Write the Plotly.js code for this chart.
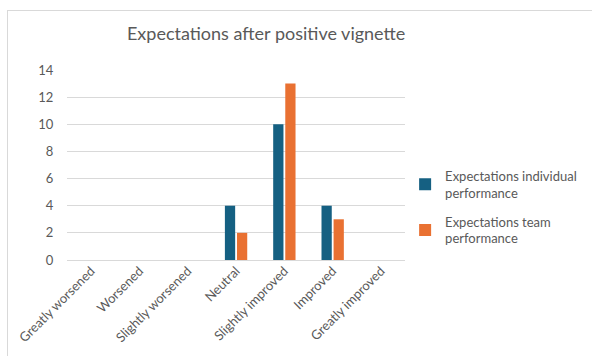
<!DOCTYPE html>
<html>
<head>
<meta charset="utf-8">
<script src="https://cdn.plot.ly/plotly-3.0.1.min.js"></script>
<style>
  html, body { margin: 0; padding: 0; background: #fff; }
  #frame { position: absolute; left: 7px; top: 10px; width: 585px; height: 346px;
           border-left: 1px solid #d9d9d9; border-top: 1px solid #d9d9d9; box-sizing: border-box; }
  #chart { width: 584px; height: 345px; }
</style>
</head>
<body>
<div id="frame"><div id="chart"></div></div>
<script>
// Response categories along the x axis
const categories = ["Greatly worsened", "Worsened", "Slightly worsened", "Neutral",
                    "Slightly improved", "Improved", "Greatly improved"];
// Counts per category
const individualValues = [0, 0, 0, 4, 10, 4, 0];
const teamValues = [0, 0, 0, 2, 13, 3, 0];
const seriesNames = ["Expectations individual<br>performance", "Expectations team<br>performance"];
const yTicks = [0, 2, 4, 6, 8, 10, 12, 14];

const textColor = "#595959";
const font = "Lato, 'Open Sans', sans-serif";

const traces = [
  { type: "bar", x: categories, y: individualValues, name: seriesNames[0],
    legendgroup: "individual", marker: { color: "#156082" }, hoverinfo: "x+y" },
  { type: "bar", x: categories, y: teamValues, name: seriesNames[1],
    legendgroup: "team", marker: { color: "#e97132" }, hoverinfo: "x+y" }
];

const layout = {
  width: 584, height: 345,
  margin: { l: 59, r: 184, t: 59, b: 96 },
  paper_bgcolor: "#fff", plot_bgcolor: "#fff",
  font: { family: font, color: textColor, size: 13 },
  title: { text: "Expectations after positive vignette",
           font: { family: font, size: 18, color: textColor },
           x: 0.442, xanchor: "center", y: 0.935, yanchor: "middle" },
  barmode: "group", bargap: 0.5, bargroupgap: 0.15,
  xaxis: { type: "category", tickangle: -45, showgrid: false, zeroline: false,
           showline: false, ticks: "", tickfont: { size: 13, color: textColor },
           automargin: false },
  yaxis: { range: [0, 14], tickvals: yTicks, showgrid: true, gridcolor: "#d9d9d9",
           gridwidth: 1, zeroline: true, zerolinecolor: "#d9d9d9", zerolinewidth: 1,
           showline: false, ticks: "outside", ticklen: 10, tickcolor: "rgba(0,0,0,0)",
           tickfont: { size: 13, color: textColor }, automargin: false },
  showlegend: true,
  legend: { xref: "container", yref: "container", x: 0.68, xanchor: "left",
            y: 0.566, yanchor: "top", traceorder: "grouped",
            font: { size: 13, color: textColor }, itemwidth: 30, tracegroupgap: 9,
            bgcolor: "rgba(0,0,0,0)" }
};

Plotly.newPlot("chart", traces, layout, { staticPlot: true, displayModeBar: false });
</script>
</body>
</html>
